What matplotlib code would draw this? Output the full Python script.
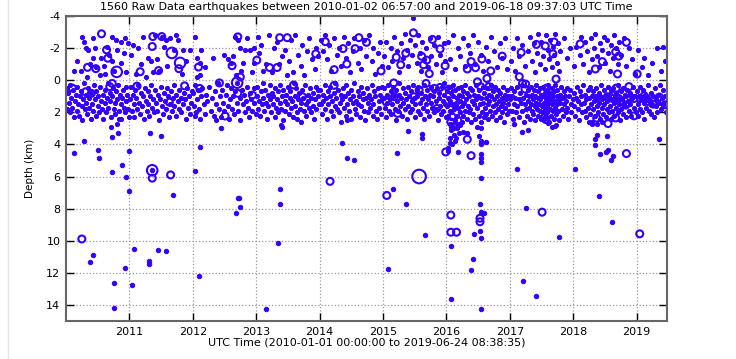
import matplotlib
matplotlib.use("Agg")
import matplotlib.pyplot as plt
from matplotlib.lines import Line2D

plt.rcParams['axes.unicode_minus'] = False
BLUE = "#3300ff"

# small events, (fraction of year, depth km)
q2010 = [(.26,-2.7),(.28,-2.4),(.42,-2.6),(.45,-2.0),(.73,-2.7),(.79,-2.5),(.86,-2.4),(.93,-2.6),(.31,-2.0),(.34,-1.9),
         (.64,-2.1),(.81,-1.9),(.55,-1.4),(.42,-1.4),(.72,-1.2),(.38,-1.0),(.24,-0.6),(.54,-0.3),(.33,-0.2),(.60,-0.9),
         (.68,-1.6),(.86,-1.1),(.95,-0.5),(.98,-2.3),(.12,-0.6),(.91,-1.7),(.62,-0.4),(.48,-0.8),(.76,-0.6),(.17,-1.2),
         (.01,.5),(.02,1.8),(.03,.8),(.05,1.4),(.06,.3),(.07,2.0),(.08,1.1),(.10,1.7),(.11,.6),(.13,2.3),(.14,1.3),(.15,.9),
         (.17,1.9),(.18,.4),(.19,1.5),(.21,2.2),(.22,1.0),(.23,.7),(.25,1.6),(.26,2.5),(.27,1.2),(.28,.2),(.30,1.8),(.31,.9),
         (.32,1.4),(.33,2.1),(.35,.5),(.36,1.7),(.37,1.1),(.39,2.4),(.40,.8),(.41,1.5),(.43,1.9),(.44,.3),(.46,1.2),(.47,2.2),
         (.48,.7),(.50,1.6),(.51,1.0),(.52,2.0),(.54,.4),(.55,1.3),(.57,1.8),(.58,.9),(.59,2.4),(.61,1.4),(.62,.6),(.63,2.0),
         (.65,1.1),(.66,.2),(.67,1.7),(.69,.8),(.70,1.3),(.71,2.3),(.73,1.0),(.74,.5),(.75,1.8),(.77,1.4),(.78,2.1),(.79,.7),
         (.81,1.2),(.82,.3),(.83,1.9),(.85,.9),(.86,1.5),(.87,2.4),(.89,1.1),(.90,.6),(.91,1.7),(.93,2.0),(.94,.4),(.95,1.3),
         (.97,.9),(.98,1.8),(.99,2.3),(.84,2.4),(.71,2.9),(.81,2.7)]
q2011 = [(.02,-1.6),(.06,-2.2),(.13,-2.0),(.22,-2.7),(.26,-0.2),(.30,-1.4),(.34,-1.2),(.40,-2.8),(.43,-1.3),(.47,-0.6),
         (.52,-2.7),(.55,-2.1),(.58,-2.5),(.64,-2.6),(.70,-1.9),(.74,-2.8),(.77,-2.5),(.85,-1.9),(.90,-1.2),(.95,-1.9),
         (.60,-0.9),(.18,-1.0),(.10,-0.4),(.38,-0.5),(.83,-0.4),
         (.01,1.2),(.02,.4),(.04,1.9),(.05,.9),(.07,1.5),(.08,2.3),(.09,.6),(.11,1.1),(.12,1.8),(.14,.3),(.15,1.4),(.17,2.1),
         (.18,.8),(.20,1.6),(.21,1.0),(.23,2.4),(.24,.5),(.26,1.3),(.27,1.9),(.29,.7),(.30,1.5),(.31,2.2),(.33,1.0),(.34,.3),
         (.36,1.7),(.37,1.2),(.39,2.0),(.41,.6),(.42,1.4),(.44,1.9),(.45,.9),(.47,2.5),(.48,1.2),(.50,.4),(.51,1.6),(.53,2.1),
         (.54,.8),(.56,1.3),(.57,1.8),(.59,.5),(.61,1.0),(.62,2.3),(.64,1.5),(.65,.7),(.67,1.9),(.68,1.1),(.70,.3),(.71,1.6),
         (.73,2.2),(.74,.9),(.76,1.3),(.78,1.8),(.79,.6),(.81,1.1),(.82,2.0),(.84,1.5),(.86,.8),(.87,1.2),(.89,2.4),(.91,.5),
         (.92,1.7),(.94,1.0),(.95,2.1),(.97,1.4),(.98,.7)]
q2012 = [(.03,-2.7),(.06,-1.4),(.11,-1.1),(.11,-0.3),(.06,-0.2),(.13,-1.9),(.32,-1.4),(.50,-1.6),(.55,-1.3),(.61,-1.1),
         (.63,-1.5),(.66,-2.7),(.71,-2.5),(.74,-2.0),(.82,-1.9),(.76,-0.6),(.79,-1.1),(.90,-1.9),(.96,-2.0),(.97,-1.1),
         (.20,-0.8),(.85,-2.6),(.68,-0.3),(.93,-0.5),
         (.01,.8),(.02,1.6),(.04,.3),(.05,2.0),(.07,1.2),(.09,.6),(.10,1.8),(.12,2.4),(.13,1.0),(.15,.5),(.17,1.5),(.19,2.1),
         (.21,.9),(.23,1.3),(.26,.4),(.28,1.9),(.30,1.1),(.33,2.2),(.35,.7),(.37,1.5),(.39,.2),(.41,1.8),(.43,1.0),(.44,2.3),
         (.46,.6),(.48,1.4),(.50,1.9),(.52,.9),(.54,.3),(.55,1.6),(.57,2.4),(.59,1.2),(.60,.5),(.62,1.8),(.64,1.0),(.65,2.1),
         (.67,.7),(.69,1.4),(.70,.2),(.72,1.9),(.74,1.1),(.75,2.5),(.77,.6),(.79,1.5),(.80,.9),(.82,2.0),(.84,1.3),(.85,.4),
         (.87,1.7),(.89,2.3),(.90,.8),(.92,1.2),(.94,1.9),(.96,.5),(.97,1.4),(.99,2.1),(.37,2.5),(.03,2.2)]
q2013 = [(.03,-2.7),(.05,-1.7),(.08,-2.2),(.15,-1.0),(.20,-2.8),(.28,-2.0),(.33,-2.4),(.40,-1.5),(.45,-1.9),(.52,-1.2),
         (.55,-2.5),(.62,-2.8),(.66,-1.6),(.70,-0.9),(.72,-2.2),(.80,-1.8),(.84,-2.6),(.88,-1.3),(.92,-0.7),(.95,-2.0),
         (.25,-0.5),(.48,-0.3),(.10,-0.6),(.58,-0.5),(.76,-0.3),(.98,-1.5),(.36,-1.0),
         (.01,1.0),(.02,.4),(.03,1.8),(.05,1.3),(.06,2.2),(.07,.7),(.09,1.5),(.10,.2),(.11,1.1),(.13,1.9),(.14,.6),(.15,1.4),
         (.17,2.4),(.18,.9),(.19,1.6),(.21,.3),(.22,1.2),(.23,2.0),(.25,.8),(.26,1.5),(.27,1.0),(.29,2.3),(.30,.5),(.31,1.7),
         (.33,1.2),(.34,.7),(.35,2.0),(.37,1.4),(.38,.3),(.39,1.8),(.41,1.0),(.42,2.5),(.43,.6),(.45,1.3),(.46,1.9),(.47,.9),
         (.49,1.5),(.50,.4),(.51,2.1),(.53,1.1),(.54,.7),(.55,1.7),(.57,1.3),(.58,2.3),(.59,.2),(.61,1.0),(.62,1.6),(.63,.5),
         (.65,2.0),(.66,1.2),(.67,.8),(.69,1.8),(.70,1.4),(.71,2.6),(.73,.6),(.74,1.1),(.75,1.9),(.77,.3),(.78,1.5),(.79,2.2),
         (.81,.9),(.82,1.3),(.83,1.7),(.85,.5),(.86,2.0),(.87,1.1),(.89,.8),(.90,1.6),(.91,2.4),(.93,1.2),(.94,.4),(.95,1.8),
         (.97,1.0),(.98,.6),(.99,1.5),(.39,2.8),(.65,2.4)]
q2014 = [(.02,-2.5),(.05,-1.8),(.08,-2.8),(.12,-1.3),(.15,-2.2),(.18,-0.6),(.22,-2.6),(.27,-1.6),(.30,-2.0),(.33,-0.9),
         (.38,-2.7),(.41,-1.4),(.45,-2.3),(.48,-0.5),(.52,-1.8),(.55,-2.6),(.60,-1.1),(.63,-2.0),(.66,-0.7),(.70,-2.5),
         (.73,-1.5),(.78,-2.8),(.82,-1.2),(.85,-2.0),(.88,-0.4),(.92,-1.7),(.95,-2.4),(.98,-0.9),
         (.01,.6),(.02,1.5),(.04,2.1),(.05,.9),(.06,1.3),(.08,.3),(.09,1.8),(.10,1.1),(.12,2.4),(.13,.7),(.14,1.5),(.16,1.0),
         (.17,.4),(.18,1.9),(.20,1.3),(.21,2.2),(.22,.8),(.24,1.6),(.25,.2),(.26,1.1),(.28,1.8),(.29,.6),(.30,2.0),(.32,1.4),
         (.33,.9),(.34,2.6),(.36,1.2),(.37,.5),(.38,1.7),(.40,1.0),(.41,2.2),(.42,.3),(.44,1.5),(.45,.8),(.46,1.9),(.48,1.2),
         (.49,2.4),(.50,.6),(.52,1.4),(.53,1.0),(.54,.2),(.56,1.8),(.57,1.3),(.58,2.1),(.60,.7),(.61,1.5),(.62,1.0),(.64,2.3),
         (.65,.4),(.66,1.6),(.68,1.2),(.69,.8),(.70,1.9),(.72,2.5),(.73,1.1),(.74,.5),(.76,1.4),(.77,2.0),(.78,.9),(.80,1.7),
         (.81,1.2),(.82,.3),(.84,2.2),(.85,1.5),(.86,.7),(.88,1.0),(.89,1.9),(.90,2.4),(.92,.5),(.93,1.3),(.94,1.7),(.96,.9),
         (.97,2.1),(.98,1.2),(.99,.4),(.44,2.45)]
q2015 = [(.02,-1.5),(.05,-2.4),(.08,-0.8),(.12,-2.0),(.15,-1.2),(.18,-2.7),(.22,-1.8),(.25,-0.5),(.28,-2.3),(.31,-1.4),
         (.34,-2.9),(.38,-1.9),(.40,-0.9),(.43,-2.5),(.46,-1.6),(.48,-3.9),(.50,-2.2),(.53,-1.1),(.55,-2.8),(.58,-1.7),
         (.60,-0.6),(.62,-2.4),(.65,-1.3),(.68,-2.0),(.71,-0.8),(.74,-2.6),(.76,-1.5),(.80,-2.2),(.83,-1.0),(.86,-2.7),
         (.90,-1.6),(.93,-0.5),(.96,-2.3),(.98,-1.2),
         (.01,1.1),(.02,.5),(.03,1.7),(.04,2.3),(.06,.9),(.07,1.4),(.08,.3),(.10,1.9),(.11,1.2),(.12,.7),(.13,2.1),(.15,1.5),
         (.16,.4),(.17,1.0),(.19,1.8),(.20,2.5),(.21,.6),(.22,1.3),(.24,1.9),(.25,.9),(.26,.2),(.27,1.6),(.29,1.1),(.30,2.2),
         (.31,.5),(.32,1.4),(.34,1.8),(.35,.8),(.36,1.2),(.38,2.4),(.39,.4),(.40,1.6),(.41,1.0),(.43,2.0),(.44,.7),(.45,1.3),
         (.46,1.8),(.48,.3),(.49,1.1),(.50,2.3),(.51,1.5),(.53,.6),(.54,1.0),(.55,1.9),(.56,.4),(.58,1.4),(.59,2.1),(.60,.8),
         (.61,1.2),(.63,1.7),(.64,.3),(.65,2.4),(.66,1.0),(.68,1.5),(.69,.6),(.70,1.9),(.71,1.2),(.73,2.2),(.74,.9),(.75,1.4),
         (.76,.4),(.78,1.7),(.79,1.0),(.80,2.0),(.81,.7),(.83,1.3),(.84,1.8),(.85,.5),(.86,2.5),(.88,1.1),(.89,.8),(.90,1.6),
         (.91,2.1),(.93,.4),(.94,1.3),(.95,1.9),(.96,.9),(.98,1.5),(.99,2.3),(.97,.2)]
q2016 = [(.02,-2.4),(.06,-1.3),(.10,-2.8),(.14,-0.7),(.18,-2.0),(.22,-1.5),(.26,-2.6),(.30,-0.9),(.34,-2.2),(.38,-1.7),
         (.42,-2.8),(.45,-1.0),(.50,-2.4),(.54,-1.6),(.58,-0.6),(.62,-2.1),(.66,-1.2),(.70,-2.7),(.75,-1.8),(.80,-0.8),
         (.84,-2.3),(.88,-1.4),(.92,-2.6),(.96,-0.7),
         (.01,.7),(.01,1.6),(.02,2.2),(.03,1.1),(.04,.4),(.05,1.9),(.05,2.7),(.06,1.3),(.07,.8),(.08,3.1),(.08,2.0),(.09,1.5),
         (.10,.3),(.10,2.9),(.11,1.0),(.12,3.4),(.12,1.8),(.13,2.5),(.14,.6),(.14,3.8),(.15,1.4),(.16,2.2),(.16,3.0),(.17,1.1),
         (.18,.5),(.18,2.7),(.19,1.7),(.20,3.3),(.20,.9),(.21,2.0),(.22,1.3),(.23,.4),(.24,2.6),(.24,1.6),(.25,1.0),(.26,2.2),
         (.27,.7),(.28,1.4),(.29,1.9),(.30,.3),(.31,1.2),(.32,2.4),(.33,.8),(.34,1.6),(.35,2.0),(.36,1.0),(.37,.5),(.38,1.8),
         (.39,2.6),(.40,1.3),(.41,.6),(.42,2.1),(.43,1.5),(.44,.9),(.45,2.4),(.46,1.2),(.47,.3),(.48,1.7),(.49,2.9),(.50,1.0),
         (.51,2.2),(.52,.6),(.52,3.5),(.53,1.5),(.54,2.6),(.54,3.9),(.55,1.1),(.55,3.0),(.56,2.0),(.57,.4),(.58,1.4),(.59,2.3),
         (.60,.8),(.61,1.7),(.62,1.1),(.63,2.1),(.64,.5),(.65,1.5),(.66,2.4),(.67,.9),(.68,1.3),(.69,1.9),(.70,.3),(.71,1.0),
         (.72,2.2),(.73,1.6),(.74,.7),(.75,1.2),(.76,2.0),(.77,.4),(.78,1.5),(.79,2.5),(.80,1.0),(.81,.6),(.82,1.8),(.83,1.3),
         (.84,2.3),(.85,.8),(.86,1.6),(.87,1.1),(.88,2.0),(.89,.4),(.90,1.4),(.91,2.6),(.92,.9),(.93,1.7),(.94,1.2),(.95,2.1),
         (.96,.6),(.97,1.5),(.98,1.0),(.99,1.9),(.06,3.6),(.09,4.0),(.15,3.6),(.22,2.8),(.27,3.2),(.02,4.4)]
q2017 = [(.02,-1.2),(.05,-2.0),(.08,-0.6),(.12,-2.6),(.15,-1.5),(.20,-2.2),(.24,-0.9),(.28,-1.8),(.32,-2.7),(.35,-1.2),
         (.38,-2.3),(.40,-0.5),(.43,-1.7),(.45,-2.9),(.48,-1.0),(.50,-2.4),(.52,-1.5),(.55,-0.7),(.57,-2.8),(.60,-1.9),
         (.62,-1.3),(.64,-2.5),(.66,-0.8),(.68,-2.1),(.70,-1.6),(.72,-2.9),(.74,-1.1),(.76,-2.3),(.78,-0.6),(.80,-1.8),
         (.85,-2.6),(.90,-1.4),(.95,-2.0),
         (.01,1.2),(.02,.5),(.03,1.9),(.04,1.0),(.05,2.4),(.06,.7),(.07,1.5),(.09,1.1),(.10,2.0),(.11,.4),(.12,1.6),(.14,1.2),
         (.15,2.3),(.16,.8),(.17,1.4),(.19,1.9),(.20,.3),(.21,1.1),(.22,2.6),(.24,1.5),(.25,.9),(.26,1.8),(.27,2.2),(.28,.6),
         (.29,1.3),(.30,1.7),(.31,1.0),(.32,2.4),(.33,.4),(.34,1.5),(.35,1.9),(.35,.9),(.36,1.2),(.37,2.1),(.38,.6),(.39,1.6),
         (.40,1.0),(.40,2.5),(.41,1.4),(.42,.3),(.43,1.8),(.44,1.1),(.44,2.2),(.45,.7),(.46,1.5),(.47,1.9),(.48,.5),(.48,1.2),
         (.49,2.4),(.50,.9),(.51,1.6),(.52,1.0),(.52,2.0),(.53,.4),(.54,1.4),(.55,1.8),(.55,.8),(.56,2.3),(.57,1.2),(.58,.6),
         (.58,1.6),(.59,2.0),(.60,1.0),(.61,.3),(.61,1.4),(.62,2.6),(.63,.8),(.64,1.8),(.64,1.2),(.65,2.2),(.66,.5),(.67,1.5),
         (.68,1.0),(.68,1.9),(.69,2.4),(.70,.7),(.71,1.3),(.72,1.7),(.72,.3),(.73,2.1),(.74,1.0),(.75,1.5),(.75,.6),(.76,1.9),
         (.77,1.2),(.78,2.5),(.79,.9),(.80,1.4),(.81,.4),(.82,1.8),(.83,1.1),(.84,2.2),(.85,.7),(.86,1.5),(.87,1.0),(.88,2.0),
         (.89,1.3),(.90,.5),(.91,1.7),(.92,2.4),(.94,1.0),(.95,.6),(.96,1.5),(.97,2.0),(.99,1.2),
         (.60,2.65),(.66,2.9),(.71,2.85),(.73,2.8)]
q2018 = [(.02,-0.9),(.05,-2.1),(.10,-1.6),(.13,-2.7),(.16,-1.0),(.19,-2.4),(.22,-1.8),(.25,-0.5),(.28,-2.6),(.30,-1.3),
         (.33,-2.0),(.35,-2.9),(.38,-1.5),(.40,-0.8),(.43,-2.3),(.45,-1.9),(.48,-2.7),(.50,-1.1),(.53,-2.5),(.55,-1.7),
         (.58,-0.6),(.60,-2.2),(.63,-1.4),(.65,-2.8),(.68,-2.0),(.70,-1.0),(.73,-2.4),(.76,-1.6),(.80,-2.6),(.84,-0.9),
         (.88,-2.0),(.93,-1.3),(.97,-0.4),
         (.01,.8),(.02,1.6),(.03,2.2),(.04,1.1),(.06,.4),(.07,1.8),(.08,1.3),(.09,2.5),(.10,.7),(.12,1.5),(.13,1.0),(.14,2.0),
         (.15,.3),(.17,1.4),(.18,1.9),(.19,.9),(.20,2.3),(.21,1.2),(.23,.6),(.24,1.7),(.25,1.1),(.26,2.1),(.27,.4),(.28,1.5),
         (.29,1.0),(.30,2.6),(.31,1.8),(.32,.7),(.33,1.3),(.34,2.2),(.35,1.0),(.36,.5),(.37,1.6),(.38,1.2),(.39,2.0),(.40,.8),
         (.41,1.4),(.42,2.4),(.43,1.0),(.44,.3),(.45,1.7),(.46,1.2),(.47,2.1),(.48,.6),(.49,1.5),(.50,1.0),(.51,2.3),(.52,.9),
         (.53,1.8),(.54,1.3),(.55,.4),(.56,2.0),(.57,1.1),(.58,1.6),(.59,.7),(.60,2.4),(.61,1.2),(.62,1.9),(.63,.5),(.64,1.4),
         (.65,2.2),(.66,1.0),(.67,.8),(.68,1.7),(.69,1.3),(.70,2.0),(.71,.3),(.72,1.5),(.73,1.1),(.74,2.5),(.75,.7),(.76,1.8),
         (.77,1.2),(.78,.5),(.79,2.1),(.80,1.4),(.81,.9),(.82,1.6),(.83,2.3),(.84,1.0),(.85,.6),(.86,1.3),(.88,1.9),(.89,.8),
         (.90,1.5),(.92,2.2),(.93,1.1),(.94,.4),(.96,1.7),(.97,1.0),(.99,2.0),
         (.25,2.6),(.30,2.75),(.38,2.75),(.45,2.6)]
q2019 = [(.03,-1.9),(.08,-0.8),(.12,-1.4),(.18,-0.3),(.25,-1.1),(.33,-2.0),(.38,-0.6),(.42,-2.1),(.45,-1.2),
         (.01,.7),(.02,1.5),(.03,2.2),(.04,1.0),(.05,.4),(.06,1.8),(.07,1.2),(.09,2.0),(.10,.6),(.11,1.4),(.12,2.4),(.14,.9),
         (.15,1.7),(.16,1.1),(.18,.3),(.19,1.9),(.20,1.3),(.22,2.1),(.23,.8),(.24,1.5),(.26,1.0),(.27,2.3),(.29,.5),(.30,1.6),
         (.31,1.2),(.33,2.0),(.34,.9),(.36,1.4),(.37,.3),(.39,1.8),(.40,1.1),(.42,.6),(.43,1.5),(.45,1.0),(.46,2.0)]
year_lists = {2010: q2010, 2011: q2011, 2012: q2012, 2013: q2013, 2014: q2014,
              2015: q2015, 2016: q2016, 2017: q2017, 2018: q2018, 2019: q2019}

# scattered deeper small events
deep_t = [2010.13,2010.29,2010.50,2010.52,2010.73,2010.82,2010.73,2010.88,2010.95,2011.00,2011.00,2011.32,2011.50,
          2011.36,2011.69,2012.11,2012.03,2012.45,2012.71,2012.73,2012.75,2012.68,2013.40,2013.37,2013.37,2014.35,
          2014.43,2014.54,2015.39,2015.61,2015.61,2015.22,2015.16,2015.37,2015.66,2016.03,2016.05,2016.18,2016.32,
          2016.54,2016.54,2016.54,2016.54,2016.54,2016.62,2016.54,2016.53,2016.54,2016.60,2016.53,2016.44,2016.54,
          2017.07,2017.19,2017.29,2017.12,2017.25,2017.77,2018.03,2018.61,2018.40,2018.42,2018.51,2018.55,2018.63,
          2018.60,2018.34,2018.37,2018.34,2018.53,2019.36,2010.43,2010.38,2010.93,2010.75,2011.04,2010.75,2011.07,
          2011.31,2011.31,2011.45,2011.58,2012.10,2013.16,2013.35,2015.08,2016.08,2016.42,2016.39,2016.08,2016.54,
          2017.21,2017.41]
deep_d = [4.55,3.78,4.36,4.86,3.51,3.30,5.72,5.26,6.01,4.39,6.89,3.28,3.45,
          5.61,7.14,4.18,5.66,2.95,7.36,7.36,7.89,8.26,2.89,6.78,7.70,3.90,
          4.84,4.99,3.18,3.37,3.62,4.55,6.78,7.70,9.64,4.20,3.90,4.45,3.30,
          4.60,4.86,5.10,3.78,3.99,3.84,6.10,7.70,8.20,8.30,9.40,9.60,9.80,
          2.74,3.22,3.11,5.55,7.93,9.76,5.55,8.82,7.24,4.61,4.45,4.36,4.74,
          4.97,3.68,3.40,4.03,3.47,3.68,10.90,11.34,11.72,12.63,12.78,14.20,10.51,
          11.28,11.43,10.60,10.64,12.22,14.26,10.14,11.78,10.34,11.14,11.84,13.66,14.28,
          12.51,13.45]

# larger events drawn as open rings; size class m / l / x
ring_t = [2010.56,2010.64,2010.66,2010.80,2010.34,2010.47,2010.10,2010.40,2010.73,2010.31,2010.69,2010.25,
          2011.17,2011.37,2011.51,2011.36,2011.67,2011.80,2011.78,2011.46,2011.12,2011.63,2011.87,2011.36,2011.36,2011.65,
          2012.09,2012.42,2012.51,2012.62,2012.71,2012.70,2012.75,2012.71,2012.94,2012.11,
          2013.01,2013.21,2013.33,2013.37,2013.49,2013.59,2013.73,2013.94,
          2014.09,2014.23,2014.23,2014.37,2014.43,2014.56,2014.62,2014.74,2014.165,2014.97,
          2015.48,2015.36,2015.21,2015.28,2015.61,2015.69,2015.64,2015.73,2015.78,2015.90,2015.98,2015.17,2015.57,2015.68,
          2015.81,2015.90,2015.85,2015.18,2015.49,2015.23,2015.05,2015.06,2015.57,
          2016.04,2016.12,2016.09,2016.18,2016.11,2015.99,2016.33,2016.39,2016.07,2016.07,2016.53,2016.53,2016.07,2016.16,
          2016.33,2016.46,2016.39,2016.56,2016.64,2016.70,2016.88,2016.49,2016.54,2016.67,
          2017.15,2017.18,2017.20,2017.25,2017.24,2017.42,2017.56,2017.70,2017.68,2017.58,2017.65,2017.72,2017.73,2017.57,
          2017.55,2017.51,
          2018.11,2018.35,2018.46,2018.67,2018.72,2018.84,2018.70,2018.88,2018.68,2018.54,2018.62,2018.72,2018.85,2018.96,
          2018.83,2018.96,2018.67,2018.55,2018.37,2018.84,
          2019.01,2019.06,2019.16,2019.12,2019.19,2019.26,2019.36,2019.45,2019.05]
ring_d = [-2.89,-1.89,-1.37,-0.52,-0.80,-0.72,0.49,0.82,0.20,0.72,0.40,9.89,
          -0.53,-2.72,-2.72,-2.10,-1.70,-1.08,-0.72,-0.60,0.37,1.37,0.35,5.61,6.10,5.90,
          -0.82,0.17,2.23,-0.90,-2.70,0.15,-0.20,0.82,0.93,0.51,
          -1.25,-0.79,-0.79,-2.65,-2.65,0.30,1.03,-1.64,
          -2.40,-0.66,0.32,-1.97,-1.01,-1.97,-2.65,-2.36,6.30,-0.58,
          -2.95,-1.68,-1.43,-0.96,-1.49,-1.25,-0.96,-0.41,-2.54,-1.95,-0.90,0.17,0.61,0.20,
          0.51,0.45,1.76,1.03,1.03,2.07,1.34,7.18,6.00,
          0.56,1.34,2.28,2.49,2.90,4.47,3.68,4.70,2.60,8.40,8.60,8.82,9.47,9.47,
          -0.70,-0.78,-1.16,-1.32,-0.11,-0.58,-1.50,0.10,0.40,0.40,
          -0.22,-1.73,0.20,0.24,0.55,-2.23,-2.13,-2.38,-1.64,0.49,1.03,1.24,-0.07,2.45,
          2.32,8.22,
          -2.26,-0.70,-1.16,-1.76,-1.50,-2.36,-0.39,0.40,0.49,1.03,1.14,1.14,1.14,1.14,
          1.55,2.22,2.35,2.70,2.36,4.57,
          -0.39,1.14,1.14,0.97,1.34,1.49,1.05,1.53,9.57]
ring_k = ["m"] * len(ring_t)
for i, (t, d) in enumerate(zip(ring_t, ring_d)):
    if (t, d) in [(2010.80, -0.52), (2011.67, -1.70), (2011.80, -1.08), (2012.70, 0.15),
                  (2011.36, 5.61), (2016.12, 1.34)]:
        ring_k[i] = "l"
    if (t, d) == (2015.57, 6.00):
        ring_k[i] = "x"
ring_ms = {"m": 5.0, "l": 7.6, "x": 9.8}

t_small, d_small = [], []
for yr, pts in year_lists.items():
    for f, d in pts:
        t_small.append(yr + f)
        d_small.append(d)

fig = plt.figure(figsize=(7.36, 3.59), dpi=100)
ax = fig.add_axes([66/736, 1 - 321/359, 601/736, 305/359])

ax.plot(t_small, d_small, "o", ms=3.0, mfc=BLUE, mec=BLUE, mew=0.7)
ax.plot(deep_t, deep_d, "o", ms=3.2, mfc=BLUE, mec=BLUE, mew=0.7)
ax.scatter(ring_t, ring_d, s=[ring_ms[k] ** 2 for k in ring_k], facecolors="none",
           edgecolors=BLUE, linewidths=1.5, zorder=3)

ax.set_xlim(2010.0, 2019.48)
ax.set_ylim(15, -4)
ax.set_xticks(range(2011, 2020))
ax.set_yticks(range(-4, 15, 2))
ax.grid(True, ls=":", color="#999999", lw=0.9)
ax.tick_params(direction="in", top=True, right=True, length=6, width=1, labelsize=8, pad=4)
for s in ax.spines.values():
    s.set_color("#666666")
    s.set_linewidth(1.5)

ax.set_title("1560 Raw Data earthquakes between 2010-01-02 06:57:00 and 2019-06-18 09:37:03 UTC Time",
             fontsize=8, pad=4)
ax.set_ylabel("Depth (km)", fontsize=7.5, labelpad=8)
ax.set_xlabel("UTC Time (2010-01-01 00:00:00 to 2019-06-24 08:38:35)", fontsize=8, labelpad=1)

fig.add_artist(Line2D([8/736, 8/736], [0, 1], color="#e4e4e4", lw=1))

fig.savefig("out.png", dpi=100)
